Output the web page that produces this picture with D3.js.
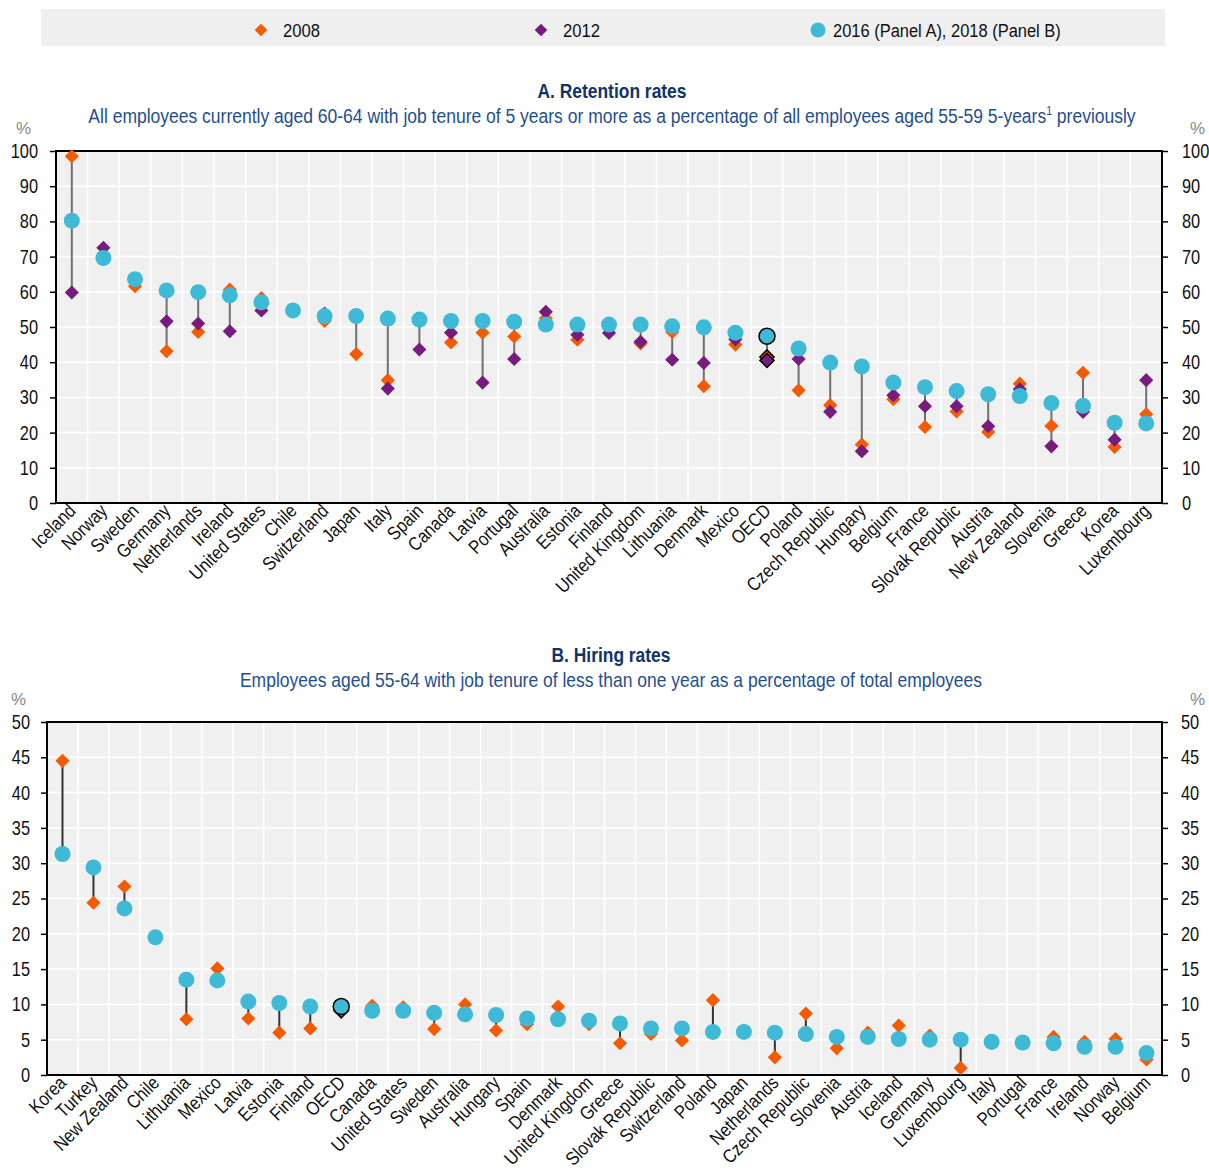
<!DOCTYPE html>
<html>
<head>
<meta charset="utf-8">
<script src="https://cdn.jsdelivr.net/npm/d3@7"></script>
<style>
  body { margin: 0; background: #fff; }
  svg text { font-family: "Liberation Sans", Arial, sans-serif; }
</style>
</head>
<body>
<svg id="chart" width="1209" height="1171"></svg>
<script>
// Panel A: retention rates
var countriesA = ["Iceland","Norway","Sweden","Germany","Netherlands","Ireland","United States","Chile","Switzerland","Japan","Italy","Spain","Canada","Latvia","Portugal","Australia","Estonia","Finland","United Kingdom","Lithuania","Denmark","Mexico","OECD","Poland","Czech Republic","Hungary","Belgium","France","Slovak Republic","Austria","New Zealand","Slovenia","Greece","Korea","Luxembourg"];
var a2008 = [98.5,null,61.6,43.1,48.6,60.6,58.2,null,51.7,42.3,34.9,51.5,45.6,48.4,47.3,52.4,46.4,null,45.3,48.6,33.2,45.0,41.5,32.0,27.8,16.6,29.5,21.6,26.0,20.2,33.9,21.9,37.0,15.9,25.2];
var a2012 = [59.8,72.5,null,51.6,51.0,48.8,54.7,null,53.8,null,32.5,43.6,48.4,34.2,40.9,54.3,47.8,48.3,45.8,40.7,39.8,46.5,40.5,40.9,25.9,14.7,30.6,27.5,27.5,21.8,32.3,16.1,25.9,18.0,34.9];
var a2016 = [80.2,69.6,63.6,60.4,59.9,59.0,57.0,54.7,53.1,53.1,52.4,52.1,51.7,51.7,51.5,50.7,50.7,50.7,50.7,50.2,49.9,48.4,47.4,43.9,39.9,38.8,34.2,32.9,31.8,30.9,30.4,28.4,27.6,22.8,22.6];

// Panel B: hiring rates
var countriesB = ["Korea","Turkey","New Zealand","Chile","Lithuania","Mexico","Latvia","Estonia","Finland","OECD","Canada","United States","Sweden","Australia","Hungary","Spain","Denmark","United Kingdom","Greece","Slovak Republic","Switzerland","Poland","Japan","Netherlands","Czech Republic","Slovenia","Austria","Iceland","Germany","Luxembourg","Italy","Portugal","France","Ireland","Norway","Belgium"];
var b2008 = [44.5,24.4,26.7,null,7.9,15.1,8.0,6.0,6.6,9.1,9.8,9.6,6.5,10.0,6.3,7.2,9.7,7.2,4.5,5.8,4.9,10.6,6.3,2.5,8.7,3.8,6.0,7.0,5.6,1.0,4.5,null,5.4,4.7,5.1,2.2];
var b2018 = [31.3,29.4,23.6,19.5,13.5,13.4,10.4,10.2,9.7,9.7,9.1,9.1,8.8,8.6,8.5,8.0,7.9,7.7,7.3,6.6,6.6,6.1,6.1,6.0,5.8,5.4,5.4,5.1,5.0,5.0,4.7,4.6,4.5,4.0,4.0,3.1];

var ticksA = [0,10,20,30,40,50,60,70,80,90,100];
var ticksB = [0,5,10,15,20,25,30,35,40,45,50];

var legendLabels = ["2008", "2012", "2016 (Panel A), 2018 (Panel B)"];

var orange = "#f45a00", purple = "#771b7c", cyan = "#3fbad6";
var narrow = 0.82; // no narrow font installed, squeeze glyphs instead

var svg = d3.select("#chart");
var diamond = d3.symbol().type(d3.symbolSquare).size(100);

// squeeze a text horizontally so it spans the given width
function fitWidth(sel, target, ax) {
  var w = sel.node().getBBox().width;
  sel.attr("transform", "translate(" + ax + ",0) scale(" + (target / w) + ",1) translate(" + (-ax) + ",0)");
}

// legend
svg.append("rect").attr("x", 41).attr("y", 9).attr("width", 1124).attr("height", 37).attr("fill", "#efefef");
var legendX = [261, 541, 818];
var legendW = [37, 37, 228];
legendLabels.forEach(function(lab, i) {
  var g = svg.append("g").attr("transform", "translate(" + legendX[i] + ",30)");
  if (i < 2) {
    g.append("path").attr("d", d3.symbol().type(d3.symbolSquare).size(80)()).attr("transform", "rotate(45)")
      .attr("fill", i == 0 ? orange : purple);
  } else {
    g.append("circle").attr("r", 7.5).attr("fill", cyan);
  }
  var tx = i < 2 ? 22 : 15;
  var t = g.append("text").attr("x", tx).attr("y", 7).attr("font-size", 19).attr("fill", "#111").text(lab);
  fitWidth(t, legendW[i], tx);
});

function drawPanel(opt) {
  var x = d3.scaleBand().domain(opt.countries).range([opt.left, opt.right]);
  var y = d3.scaleLinear().domain([0, opt.max]).range([opt.bottom, opt.top]);
  var g = svg.append("g");

  // titles
  var tt = g.append("text").attr("x", opt.cx).attr("y", opt.titleY).attr("text-anchor", "middle")
    .attr("font-size", 20).attr("font-weight", "bold").attr("fill", "#10336a").text(opt.title);
  fitWidth(tt, opt.titleW, opt.cx);
  var sub = g.append("text").attr("x", opt.cx).attr("y", opt.titleY + 25).attr("text-anchor", "middle")
    .attr("font-size", 20).attr("fill", "#1f4f90");
  opt.subtitle(sub);
  fitWidth(sub, opt.subW, opt.cx);

  // plot background + grid
  g.append("rect").attr("x", opt.left).attr("y", opt.top)
    .attr("width", opt.right - opt.left).attr("height", opt.bottom - opt.top).attr("fill", "#f0f0f0");
  g.selectAll(".hg").data(opt.ticks).enter().append("line")
    .attr("x1", opt.left).attr("x2", opt.right)
    .attr("y1", function(d) { return y(d); }).attr("y2", function(d) { return y(d); })
    .attr("stroke", "#fff").attr("stroke-width", 1.5);
  g.selectAll(".vg").data(opt.countries.slice(1)).enter().append("line")
    .attr("x1", function(d) { return x(d); }).attr("x2", function(d) { return x(d); })
    .attr("y1", opt.top).attr("y2", opt.bottom)
    .attr("stroke", "#fff").attr("stroke-width", 1.5);

  // axes
  var left = d3.axisLeft(y).tickValues(opt.ticks).tickSize(6).tickSizeOuter(0);
  var right = d3.axisRight(y).tickValues(opt.ticks).tickSize(6).tickSizeOuter(0);
  var ax1 = g.append("g").attr("transform", "translate(" + opt.left + ",0)").call(left);
  var ax2 = g.append("g").attr("transform", "translate(" + opt.right + ",0)").call(right);
  [ax1, ax2].forEach(function(a) {
    a.select(".domain").remove();
    a.selectAll("line").attr("stroke", "#000").attr("stroke-width", 1.5);
    a.selectAll("text").attr("font-size", 20).attr("fill", "#111")
      .style("font-family", '"Liberation Sans", Arial, sans-serif');
  });
  ax1.selectAll("text").attr("x", -opt.padL / narrow).attr("transform", "scale(" + narrow + ",1)");
  ax2.selectAll("text").attr("x", opt.padR / narrow).attr("transform", "scale(" + narrow + ",1)");

  g.append("rect").attr("x", opt.left).attr("y", opt.top)
    .attr("width", opt.right - opt.left).attr("height", opt.bottom - opt.top)
    .attr("fill", "none").attr("stroke", "#000").attr("stroke-width", 2);

  g.append("text").attr("x", opt.left - opt.pctL).attr("y", opt.top - 17).attr("font-size", 17).attr("fill", "#888").text("%");
  g.append("text").attr("x", opt.right + 28).attr("y", opt.top - 17).attr("font-size", 17).attr("fill", "#888").text("%");

  // category labels
  g.selectAll(".cl").data(opt.countries).enter().append("text")
    .attr("transform", function(d) {
      return "translate(" + (x(d) + x.bandwidth() / 2 + 5) + "," + (opt.bottom + 9) + ") rotate(-45) scale(0.86,1)";
    })
    .attr("text-anchor", "end").attr("font-size", 19).attr("fill", "#111").text(function(d) { return d; });

  // range lines
  var rows = opt.countries.map(function(c, i) {
    var vals = opt.series.map(function(s) { return s.values[i]; }).filter(function(v) { return v != null; });
    return { c: c, lo: d3.min(vals), hi: d3.max(vals) };
  });
  g.selectAll(".rl").data(rows.filter(function(r) { return r.hi > r.lo; })).enter().append("line")
    .attr("x1", function(d) { return x(d.c) + x.bandwidth() / 2; })
    .attr("x2", function(d) { return x(d.c) + x.bandwidth() / 2; })
    .attr("y1", function(d) { return y(d.lo); }).attr("y2", function(d) { return y(d.hi); })
    .attr("stroke", opt.lineColor).attr("stroke-width", 2);

  // markers
  opt.series.forEach(function(s) {
    var pts = opt.countries.map(function(c, i) { return { c: c, v: s.values[i] }; })
      .filter(function(d) { return d.v != null; });
    var sel;
    if (s.shape == "diamond") {
      sel = g.selectAll(null).data(pts).enter().append("path")
        .attr("d", diamond())
        .attr("transform", function(d) { return "translate(" + (x(d.c) + x.bandwidth() / 2) + "," + y(d.v) + ") rotate(45)"; });
    } else {
      sel = g.selectAll(null).data(pts).enter().append("circle")
        .attr("r", 8)
        .attr("cx", function(d) { return x(d.c) + x.bandwidth() / 2; })
        .attr("cy", function(d) { return y(d.v); });
    }
    sel.attr("fill", s.color)
      .attr("stroke", function(d) { return d.c == "OECD" ? "#000" : "none"; })
      .attr("stroke-width", 1.5);
  });
}

drawPanel({
  countries: countriesA, max: 100, ticks: ticksA,
  left: 56, right: 1162, top: 151, bottom: 503, padL: 18, padR: 20, pctL: 40,
  cx: 612, titleY: 98, titleW: 149, subW: 1048,
  title: "A. Retention rates",
  subtitle: function(t) {
    t.append("tspan").text("All employees currently aged 60-64 with job tenure of 5 years or more as a percentage of all employees aged 55-59 5-years");
    t.append("tspan").attr("font-size", 12).attr("dy", -8).text("1");
    t.append("tspan").attr("dy", 8).text(" previously");
  },
  lineColor: "#707070",
  series: [
    { values: a2008, color: orange, shape: "diamond" },
    { values: a2012, color: purple, shape: "diamond" },
    { values: a2016, color: cyan, shape: "circle" }
  ]
});

drawPanel({
  countries: countriesB, max: 50, ticks: ticksB,
  left: 47, right: 1162, top: 722, bottom: 1075, padL: 17, padR: 19, pctL: 36,
  cx: 611, titleY: 662, titleW: 119, subW: 743,
  title: "B. Hiring rates",
  subtitle: function(t) {
    t.text("Employees aged 55-64 with job tenure of less than one year as a percentage of total employees");
  },
  lineColor: "#333",
  series: [
    { values: b2008, color: orange, shape: "diamond" },
    { values: b2018, color: cyan, shape: "circle" }
  ]
});
</script>
</body>
</html>
